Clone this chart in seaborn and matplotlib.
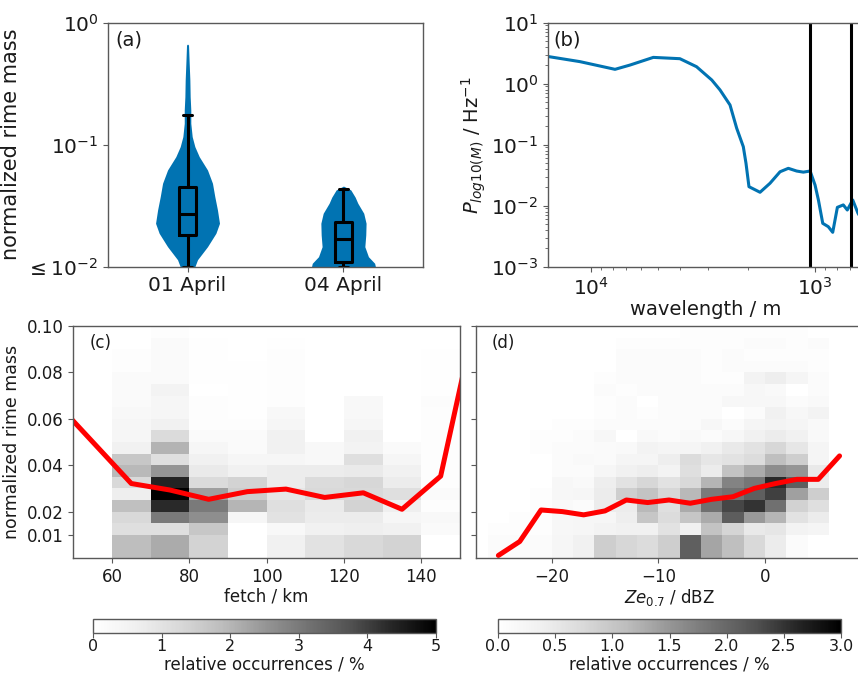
import numpy as np
import pandas as pd
import matplotlib
matplotlib.use("Agg")
import matplotlib.pyplot as plt
import matplotlib.ticker as mticker
import seaborn as sns

sns.set_style("ticks")
plt.rcParams["font.family"] = ["DejaVu Sans"]
plt.rcParams["axes.edgecolor"] = "0.35"
plt.rcParams["xtick.color"] = "0.35"
plt.rcParams["ytick.color"] = "0.35"
plt.rcParams["xtick.labelcolor"] = "0.1"
plt.rcParams["ytick.labelcolor"] = "0.1"
plt.rcParams["text.color"] = "0.1"
plt.rcParams["axes.labelcolor"] = "0.1"
plt.rcParams["mathtext.fontset"] = "dejavusans"

BLUE = "#0173b2"

# ---------------- (a) violin outlines and box statistics ----------------
days = ["01 April", "04 April"]
# outline of each violin: log10(rime mass) levels and half widths
v1_log = [-0.175, -0.183, -0.333, -0.47, -0.607, -0.716, -0.825, -0.934, -1.016,
          -1.098, -1.207, -1.316, -1.426, -1.535, -1.644, -1.726, -1.836, -1.943, -2.0]
v1_half = [0.0, 0.0064, 0.0107, 0.015, 0.017, 0.021, 0.021, 0.030, 0.047,
           0.075, 0.128, 0.160, 0.175, 0.192, 0.205, 0.182, 0.128, 0.064, 0.047]
v2_log = [-1.339, -1.371, -1.43, -1.480, -1.562, -1.644, -1.74, -1.836, -1.918, -1.972, -2.0]
v2_half = [0.0, 0.047, 0.075, 0.092, 0.130, 0.145, 0.143, 0.137, 0.160, 0.20, 0.205]
box_q1 = [0.0183, 0.0110]
box_med = [0.0272, 0.0168]
box_q3 = [0.0453, 0.0234]
box_whislo = [0.01, 0.01]
box_whishi = [0.174, 0.043]

# ---------------- (b) spectrum ----------------
wavelength = [16000, 15350, 11200, 7810, 6700, 5270, 4010, 3380, 2890, 2655, 2396, 2237,
              2090, 2033, 1972, 1760, 1589, 1433, 1316, 1208, 1128, 1052, 1000, 966,
              924, 873, 834, 795, 748, 718, 679, 643, 620]
power = [2.80, 2.77, 2.30, 1.72, 2.02, 2.70, 2.57, 1.90, 1.15, 0.79, 0.448, 0.186,
         0.0927, 0.0495, 0.0205, 0.0166, 0.0233, 0.036, 0.041, 0.037, 0.0355, 0.037,
         0.0218, 0.0124, 0.00514, 0.00453, 0.00366, 0.0094, 0.0103, 0.0085, 0.0124,
         0.0075, 0.0060]
marker_wavelengths = [1052, 693]

# ---------------- (c) fetch vs rime mass ----------------
fetch_edges = [50, 60, 70, 80, 90, 100, 110, 120, 130, 140, 150]
rime_edges = [0.0, 0.01, 0.015, 0.02, 0.025, 0.03, 0.035, 0.04, 0.045, 0.05, 0.055,
              0.06, 0.065, 0.07, 0.075, 0.08, 0.085, 0.09, 0.095, 0.10]
fetch_occ = [
    [0, 1.85, 2.15, 1.4, 0.0, 0.6, 1.0, 1.25, 1.4, 0.0],
    [0, 1.1, 1.1, 1.65, 0.02, 0.3, 0.6, 0.65, 0.6, 0.2],
    [0, 1.25, 3.0, 2.65, 0.4, 1.0, 0.75, 0.75, 0.4, 0.3],
    [0, 1.8, 4.3, 3.0, 2.0, 1.1, 0.8, 1.4, 0.65, 0.1],
    [0, 0.7, 5.0, 2.35, 1.55, 0.9, 1.25, 1.25, 1.1, 0.2],
    [0, 1.25, 4.4, 1.2, 1.4, 0.75, 1.2, 1.3, 0.75, 0.1],
    [0, 1.95, 2.5, 0.8, 0.6, 0.75, 0.75, 0.8, 0.6, 0.1],
    [0, 1.65, 1.1, 0.6, 0.4, 0.4, 0.3, 1.1, 0.4, 0.1],
    [0, 0.6, 2.05, 0.4, 0.2, 0.6, 0.3, 0.5, 0.2, 0.1],
    [0, 0.4, 1.2, 0.2, 0.2, 0.6, 0.0, 0.6, 0.0, 0.1],
    [0, 0.4, 0.6, 0.1, 0.1, 0.4, 0.0, 0.4, 0.0, 0.1],
    [0, 0.3, 0.4, 0.1, 0.05, 0.3, 0.0, 0.3, 0.0, 0.1],
    [0, 0.2, 0.4, 0.1, 0.05, 0.1, 0.0, 0.3, 0.0, 0.15],
    [0, 0.2, 0.5, 0.0, 0.05, 0.1, 0.0, 0.0, 0.0, 0.05],
    [0, 0.2, 0.2, 0.05, 0.05, 0.1, 0.0, 0.0, 0.0, 0.05],
    [0, 0.1, 0.2, 0.05, 0.05, 0.1, 0.0, 0.0, 0.0, 0.05],
    [0, 0.1, 0.2, 0.05, 0.02, 0.1, 0.0, 0.0, 0.0, 0.05],
    [0, 0.0, 0.2, 0.05, 0.0, 0.05, 0.0, 0.0, 0.0, 0.0],
    [0, 0.0, 0.1, 0.0, 0.0, 0.0, 0.0, 0.0, 0.0, 0.0],
]
fetch_centers = [45, 65, 75, 85, 95, 105, 115, 125, 135, 145, 155]
fetch_median = [0.068, 0.0321, 0.0293, 0.0253, 0.0286, 0.0297, 0.0261, 0.0281, 0.021, 0.0353, 0.111]

# ---------------- (d) reflectivity vs rime mass ----------------
ze_edges = [-26, -24, -22, -20, -18, -16, -14, -12, -10, -8, -6, -4, -2, 0, 2, 4, 6, 8]
ze_occ = [
    [0.1, 0.1, 0.1, 0.24, 0.36, 0.9, 0.78, 0.7, 0.9, 2.1, 1.35, 1.1, 0.75, 0.45, 0.1, 0.0, 0.0],
    [0.05, 0.05, 0.07, 0.2, 0.24, 0.3, 0.36, 0.36, 0.6, 0.36, 1.05, 0.8, 0.5, 0.55, 0.3, 0.25, 0.0],
    [0.0, 0.05, 0.05, 0.2, 0.24, 0.24, 0.4, 1.0, 0.7, 1.0, 1.3, 2.13, 1.47, 1.2, 0.6, 0.45, 0.0],
    [0.0, 0.0, 0.05, 0.15, 0.1, 0.45, 0.45, 1.17, 0.65, 1.3, 1.9, 2.35, 2.5, 1.9, 0.85, 0.65, 0.0],
    [0.0, 0.0, 0.05, 0.2, 0.24, 0.45, 0.9, 1.05, 0.78, 1.17, 1.8, 1.88, 2.1, 2.4, 1.4, 0.9, 0.0],
    [0.0, 0.0, 0.0, 0.2, 0.15, 0.4, 0.6, 0.78, 0.6, 0.75, 1.2, 1.7, 1.85, 2.6, 2.1, 0.45, 0.0],
    [0.0, 0.0, 0.0, 0.1, 0.1, 0.24, 0.36, 0.4, 0.3, 0.65, 0.45, 1.05, 1.3, 1.6, 1.5, 0.5, 0.0],
    [0.0, 0.0, 0.0, 0.1, 0.15, 0.12, 0.25, 0.25, 0.4, 0.7, 0.55, 0.6, 0.7, 1.1, 0.9, 0.25, 0.0],
    [0.0, 0.0, 0.05, 0.1, 0.1, 0.12, 0.15, 0.3, 0.25, 0.25, 0.36, 0.5, 0.6, 0.78, 0.55, 0.25, 0.0],
    [0.0, 0.0, 0.05, 0.05, 0.1, 0.2, 0.0, 0.15, 0.1, 0.15, 0.1, 0.2, 0.36, 0.45, 0.35, 0.15, 0.0],
    [0.0, 0.0, 0.0, 0.05, 0.05, 0.1, 0.1, 0.1, 0.1, 0.1, 0.2, 0.1, 0.25, 0.3, 0.25, 0.15, 0.0],
    [0.0, 0.0, 0.0, 0.0, 0.0, 0.05, 0.1, 0.05, 0.1, 0.1, 0.1, 0.0, 0.1, 0.35, 0.2, 0.3, 0.0],
    [0.0, 0.0, 0.0, 0.0, 0.0, 0.05, 0.1, 0.0, 0.1, 0.1, 0.1, 0.2, 0.2, 0.2, 0.1, 0.15, 0.0],
    [0.0, 0.0, 0.0, 0.0, 0.0, 0.1, 0.05, 0.1, 0.1, 0.1, 0.1, 0.1, 0.2, 0.15, 0.0, 0.1, 0.0],
    [0.0, 0.0, 0.0, 0.0, 0.0, 0.05, 0.1, 0.1, 0.1, 0.1, 0.05, 0.05, 0.3, 0.4, 0.25, 0.1, 0.0],
    [0.0, 0.0, 0.0, 0.0, 0.0, 0.0, 0.1, 0.1, 0.1, 0.1, 0.05, 0.1, 0.1, 0.1, 0.1, 0.05, 0.0],
    [0.0, 0.0, 0.0, 0.0, 0.0, 0.0, 0.1, 0.1, 0.1, 0.1, 0.05, 0.1, 0.05, 0.05, 0.05, 0.05, 0.0],
    [0.0, 0.0, 0.0, 0.0, 0.0, 0.0, 0.05, 0.05, 0.05, 0.05, 0.05, 0.05, 0.1, 0.1, 0.05, 0.1, 0.0],
    [0.0, 0.0, 0.0, 0.0, 0.0, 0.0, 0.0, 0.0, 0.0, 0.05, 0.05, 0.05, 0.05, 0.05, 0.05, 0.0, 0.0],
]
ze_centers = [-25, -23, -21, -19, -17, -15, -13, -11, -9, -7, -5, -3, -1, 1, 3, 5, 7]
ze_median = [0.0011, 0.0071, 0.0207, 0.020, 0.0186, 0.0203, 0.025, 0.0239, 0.025,
             0.0236, 0.0253, 0.0264, 0.030, 0.0321, 0.0339, 0.0339, 0.044]

rime_ticks = [0.01, 0.02, 0.04, 0.06, 0.08, 0.10]

# ---------------- figure ----------------
W, H = 858, 676
fig = plt.figure(figsize=(W / 100, H / 100), dpi=100)


def box(l, t, r, b):
    return [l / W, 1 - b / H, (r - l) / W, (b - t) / H]


ax_a = fig.add_axes(box(108, 22.7, 423, 266.7))
ax_b = fig.add_axes(box(548.3, 22.7, 863, 266.7))
ax_c = fig.add_axes(box(73.3, 326, 460, 558))
ax_d = fig.add_axes(box(476, 326, 863, 558))
cax_c = fig.add_axes(box(93.3, 619, 436, 633))
cax_d = fig.add_axes(box(498, 619, 841, 633))

# (a) violins with box plots
for pos, lg, hw in [(0, v1_log, v1_half), (1, v2_log, v2_half)]:
    yv = 10 ** np.array(lg)
    hw = np.array(hw)
    ax_a.fill_betweenx(yv, pos - hw, pos + hw, color=BLUE, lw=0, zorder=1)
stats = [dict(med=box_med[i], q1=box_q1[i], q3=box_q3[i], whislo=box_whislo[i],
              whishi=box_whishi[i], fliers=[], label=days[i]) for i in range(2)]
lp = dict(color="black", lw=2.2)
ax_a.bxp(stats, positions=[0, 1], widths=0.105, showfliers=False,
         boxprops=lp, whiskerprops=lp, capprops=lp, medianprops=lp, manage_ticks=False)
ax_a.set_yscale("log")
ax_a.set_ylim(0.01, 1)
ax_a.set_xlim(-0.51, 1.51)
ax_a.set_xticks([0, 1])
ax_a.set_xticklabels(days)
ax_a.set_yticks([0.01, 0.1, 1])
ax_a.set_yticklabels([r"$\leq 10^{-2}$", r"$10^{-1}$", r"$10^{0}$"])
ax_a.yaxis.set_minor_locator(mticker.NullLocator())
ax_a.tick_params(labelsize=14.5)
ax_a.set_ylabel("normalized rime mass", fontsize=15)
ax_a.text(0.022, 0.97, "(a)", transform=ax_a.transAxes, fontsize=14, va="top")

# (b) spectrum
spec = pd.DataFrame({"wavelength": wavelength, "power": power})
sns.lineplot(data=spec, x="wavelength", y="power", ax=ax_b, color=BLUE, lw=2.2,
             sort=False, estimator=None)
for wl in marker_wavelengths:
    ax_b.axvline(wl, color="black", lw=2.2)
ax_b.set_xscale("log")
ax_b.set_yscale("log")
ax_b.set_xlim(15500, 611)
ax_b.set_ylim(1e-3, 1e1)
ax_b.tick_params(labelsize=14.5)
ax_b.set_xlabel("wavelength / m", fontsize=14, labelpad=1)
ax_b.set_ylabel(r"$P_{log10(M)}$ / Hz$^{-1}$", fontsize=14, labelpad=2)
ax_b.text(0.016, 0.97, "(b)", transform=ax_b.transAxes, fontsize=14, va="top")

# (c) and (d) occurrence maps with median lines
mesh_c = ax_c.pcolormesh(fetch_edges, rime_edges, np.array(fetch_occ), cmap="Greys",
                         vmin=0, vmax=5, shading="flat")
sns.lineplot(x=fetch_centers, y=fetch_median, ax=ax_c, color="red", lw=3.6)
ax_c.set_xlim(50, 150)
ax_c.set_xticks([60, 80, 100, 120, 140])
ax_c.set_xlabel("fetch / km", fontsize=12, labelpad=1)
ax_c.set_ylabel("normalized rime mass", fontsize=12.5)

mesh_d = ax_d.pcolormesh(ze_edges, rime_edges, np.array(ze_occ), cmap="Greys",
                         vmin=0, vmax=3, shading="flat")
sns.lineplot(x=ze_centers, y=ze_median, ax=ax_d, color="red", lw=3.6)
ax_d.set_xlim(-27.1, 9.2)
ax_d.set_xticks([-20, -10, 0])
ax_d.set_xlabel(r"$Ze_{0.7}$ / dBZ", fontsize=12, labelpad=1)

for ax in (ax_c, ax_d):
    ax.set_ylim(0, 0.10)
    ax.set_yticks(rime_ticks)
    ax.tick_params(labelsize=12)
ax_c.set_yticklabels([f"{t:.2f}" for t in rime_ticks])
ax_d.set_yticklabels([])
ax_c.text(0.043, 0.965, "(c)", transform=ax_c.transAxes, fontsize=12, va="top")
ax_d.text(0.04, 0.965, "(d)", transform=ax_d.transAxes, fontsize=12, va="top")

for ax in (ax_a, ax_b, ax_c, ax_d):
    for s in ax.spines.values():
        s.set_visible(True)
        s.set_linewidth(1.0)

# colour bars
cb_c = fig.colorbar(mesh_c, cax=cax_c, orientation="horizontal")
cb_c.set_ticks([0, 1, 2, 3, 4, 5])
cb_d = fig.colorbar(mesh_d, cax=cax_d, orientation="horizontal")
cb_d.set_ticks([0, 0.5, 1.0, 1.5, 2.0, 2.5, 3.0])
cb_d.set_ticklabels(["0.0", "0.5", "1.0", "1.5", "2.0", "2.5", "3.0"])
for cb in (cb_c, cb_d):
    cb.ax.tick_params(labelsize=11.5, pad=1)
    cb.set_label("relative occurrences / %", fontsize=12, labelpad=1)
    cb.outline.set_linewidth(1.0)
    cb.outline.set_edgecolor("0.35")

fig.savefig("out.png", dpi=100)
